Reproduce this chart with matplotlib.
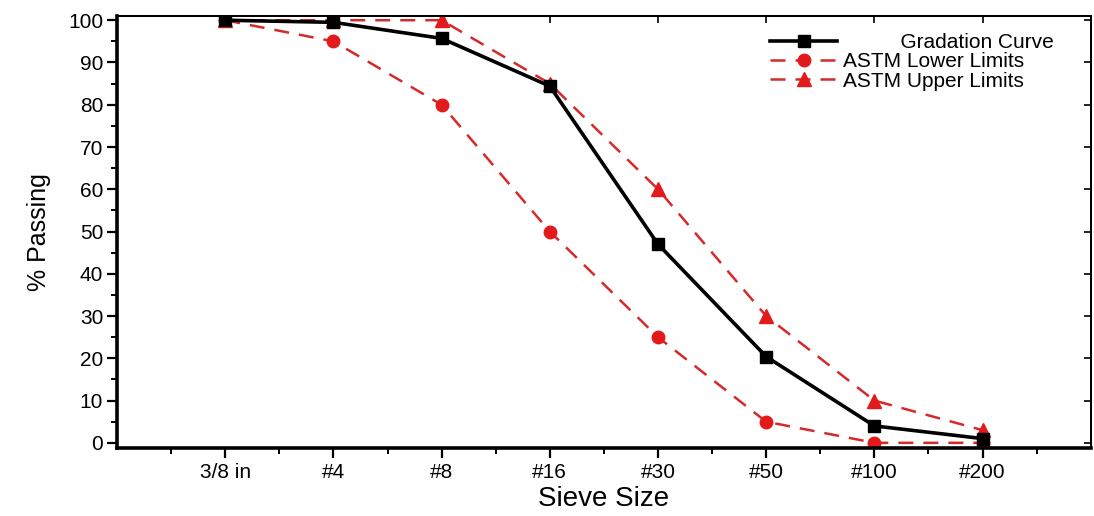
import matplotlib
matplotlib.use("Agg")
import matplotlib.pyplot as plt
from matplotlib.ticker import MultipleLocator

plt.rcParams['font.family'] = ['Liberation Sans', 'DejaVu Sans']

sieves = ['3/8 in', '#4', '#8', '#16', '#30', '#50', '#100', '#200']
gradation = [100, 99.5, 95.7, 84.4, 47, 20.4, 4, 1]
astm_lower = [100, 95, 80, 50, 25, 5, 0, 0]
astm_upper = [100, 100, 100, 85, 60, 30, 10, 3]

x = list(range(1, len(sieves) + 1))
red = '#e31a1c'
red_line = '#d42a2a'

fig = plt.figure(figsize=(10.94, 5.16), dpi=100)
ax = fig.add_axes([0.107, 0.132, 0.890, 0.837])

ax.plot(x, gradation, color='black', lw=2.6, marker='s', ms=8,
        label='          Gradation Curve', zorder=3)
ax.plot(x, astm_lower, color=red_line, lw=1.8, ls=(0, (6, 4)), marker='o', ms=9,
        mfc=red, mec=red, label='ASTM Lower Limits', zorder=2)
ax.plot(x, astm_upper, color=red_line, lw=1.8, ls=(0, (6, 4)), marker='^', ms=10,
        mfc=red, mec=red, label='ASTM Upper Limits', zorder=2)

ax.set_xlim(0, 9)
ax.set_ylim(-1.2, 101)
ax.set_xticks(x)
ax.set_xticklabels(sieves)
ax.set_xticks([v + 0.5 for v in range(0, 9)], minor=True)
ax.yaxis.set_major_locator(MultipleLocator(10))
ax.yaxis.set_minor_locator(MultipleLocator(5))

ax.tick_params(axis='both', which='major', direction='out', length=7, width=1.6,
               labelsize=15, colors='black')
ax.tick_params(axis='both', which='minor', direction='out', length=4, width=1.4)
ax.tick_params(axis='x', pad=4)
ax.tick_params(axis='y', pad=3)

# inward ticks on top and right like the original frame
secx = ax.secondary_xaxis('top')
secx.set_xticks(x)
secx.set_xticklabels([])
secx.tick_params(direction='in', length=5, width=1.2)
secy = ax.secondary_yaxis('right')
secy.yaxis.set_major_locator(MultipleLocator(10))
secy.set_yticklabels([])
secy.tick_params(direction='in', length=5, width=1.2)
for s in list(secx.spines.values()) + list(secy.spines.values()):
    s.set_linewidth(1.4)

ax.spines['left'].set_linewidth(2.6)
ax.spines['bottom'].set_linewidth(2.6)
ax.spines['top'].set_linewidth(1.4)
ax.spines['right'].set_linewidth(1.4)

ax.set_xlabel('Sieve Size', fontsize=20, labelpad=3)
ax.set_ylabel('% Passing', fontsize=18, labelpad=12)

ax.legend(loc='upper right', bbox_to_anchor=(0.975, 0.99), frameon=False,
          fontsize=15, handlelength=3.2, handletextpad=0.3, labelspacing=0.02,
          borderaxespad=0.2)

fig.savefig('out.png', dpi=100)
